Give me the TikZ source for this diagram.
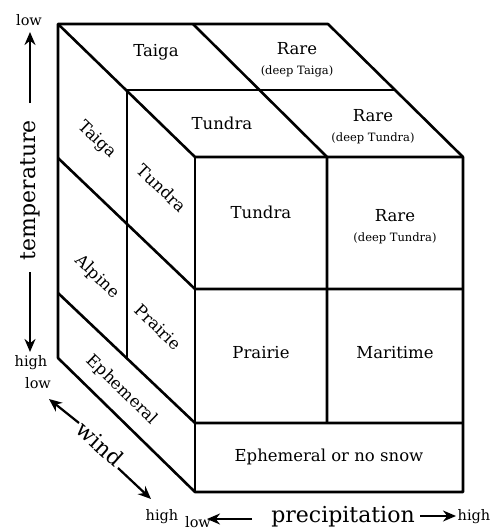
\documentclass[tikz,border=0pt]{standalone}
\usepackage{fontspec}
\setmainfont{DejaVu Serif}
\usetikzlibrary{arrows.meta}
\newcommand{\deep}[1]{{\fontsize{11.5}{13}\selectfont(#1)}}

\begin{document}
\begin{tikzpicture}[
  x=1pt,y=-1pt,
  edge/.style={line width=2.6pt,line join=round},
  cell/.style={align=center,inner sep=0pt,font=\fontsize{16.5}{20}\selectfont},
  side/.style={cell,rotate=-44},
  big/.style={inner sep=0pt,font=\fontsize{22}{24}\selectfont},
  tick/.style={inner sep=0pt,font=\fontsize{14.5}{16}\selectfont},
  axis/.style={-{Stealth[length=13pt,width=11pt]},line width=2.2pt}
]
\useasboundingbox (0,0) rectangle (492,531);

% corners of the block
\coordinate (b0) at (58,24);   \coordinate (b1) at (193,24);  \coordinate (b2) at (328,24);
\coordinate (m0) at (127,90);  \coordinate (m2) at (395,90);
\coordinate (f0) at (195,157); \coordinate (f1) at (327,157); \coordinate (f2) at (463,157);
\coordinate (fa) at (195,289); \coordinate (fb) at (463,289);
\coordinate (fc) at (195,423); \coordinate (fd) at (463,423);
\coordinate (fe) at (195,492); \coordinate (ff) at (463,492);
\coordinate (la) at (58,158);  \coordinate (lb) at (58,293);  \coordinate (lc) at (58,358);
\coordinate (mc) at (127,358);

\draw[edge] (b0) -- (b2) -- (f2) -- (ff) -- (fe) -- (lc) -- cycle;
\draw[edge] (b0) -- (f0) -- (f2);
\draw[edge] (f0) -- (fe);
\draw[edge] (b1) -- (f1) -- (f1 |- fc);
\draw[edge] (m0) -- (m2);
\draw[edge] (m0) -- (mc);
\draw[edge] (la) -- (fa) -- (fb);
\draw[edge] (lb) -- (fc) -- (fd);

% top
\node[cell] (taigatop) at (156,52) {Taiga};
\node[cell] (raretop) at (297,60) {Rare\\\deep{deep Taiga}};
\node[cell] (tundratop) at (222,123) {Tundra};
\node[cell] (raremid) at (373,127) {Rare\\\deep{deep Tundra}};
% front
\node[cell] (tundra) at (261,212) {Tundra};
\node[cell] (rare) at (395,227) {Rare\\\deep{deep Tundra}};
\node[cell] (prairie) at (261,353) {Prairie};
\node[cell] (maritime) at (395,353) {Maritime};
\node[cell] (nosnow) at (329,457) {Ephemeral or no snow};
% left side
\node[side] (taigaside) at (97,140) {Taiga};
\node[side] (tundraside) at (162,188) {Tundra};
\node[side] (alpine) at (97,277) {Alpine};
\node[side] (prairieside) at (158,327) {Prairie};
\node[side] (ephemeral) at (122,390) {Ephemeral};

% temperature axis
\node[tick] (tlow) at (29,20) {low};
\node[big,rotate=90] (temp) at (30,190) {temperature};
\node[tick] (thigh) at (31,363) {high};
\coordinate (tu0) at (30,103); \coordinate (tu1) at (30,32);
\coordinate (td0) at (30,272); \coordinate (td1) at (30,352);
\draw[axis] (tu0) -- (tu1);
\draw[axis] (td0) -- (td1);

% wind axis
\node[tick] (wlow) at (38,383) {low};
\node[big,rotate=-42] (wind) at (100,444) {wind};
\node[tick] (whigh) at (162,517) {high};
\coordinate (wu0) at (79,423); \coordinate (wu1) at (49,399);
\coordinate (wd0) at (118,468); \coordinate (wd1) at (151,499);
\draw[axis] (wu0) -- (wu1);
\draw[axis] (wd0) -- (wd1);

% precipitation axis
\node[tick] (plow) at (198,522) {low};
\node[big] (precip) at (343,517) {precipitation};
\node[tick] (phigh) at (474,517) {high};
\coordinate (pl0) at (252,519); \coordinate (pl1) at (207,519);
\coordinate (pr0) at (420,516); \coordinate (pr1) at (456,516);
\draw[axis] (pl0) -- (pl1);
\draw[axis] (pr0) -- (pr1);
\end{tikzpicture}
\end{document}
